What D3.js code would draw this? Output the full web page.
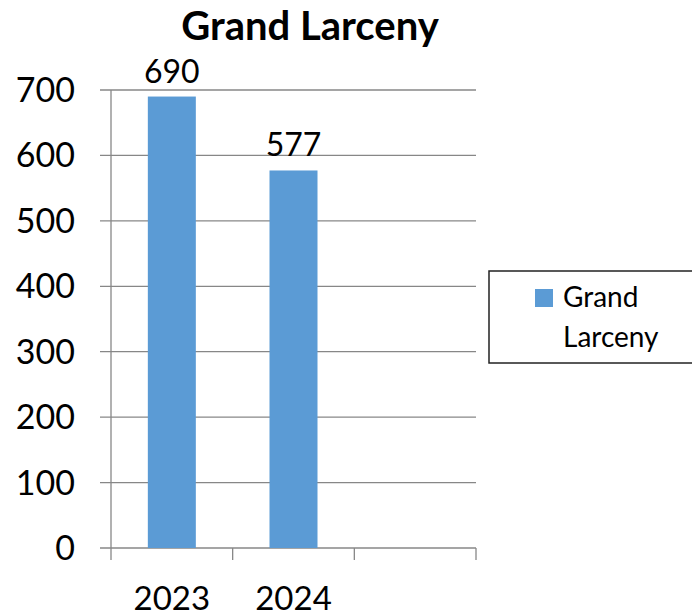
<!DOCTYPE html>
<html>
<head>
<meta charset="utf-8">
<script src="https://cdn.jsdelivr.net/npm/d3@7"></script>
<style>
  body { margin: 0; background: #fff; }
  text { font-family: Lato, "Open Sans", sans-serif; fill: #000; }
</style>
</head>
<body>
<svg width="692" height="613"></svg>
<script>
// chart data
var categories = ["2023", "2024", ""];
var values = [690, 577, null];
var yTicks = [0, 100, 200, 300, 400, 500, 600, 700];
var seriesName = ["Grand", "Larceny"];
var title = "Grand Larceny";

var svg = d3.select("svg");
var pLeft = 111, pRight = 476, pTop = 90, pBottom = 548;

var x = d3.scaleBand().domain(categories).range([pLeft, pRight]).paddingInner(0).paddingOuter(0);
var y = d3.scaleLinear().domain([0, 700]).range([pBottom, pTop]);

// gridlines
svg.selectAll("line.grid")
  .data(yTicks)
  .enter().append("line")
  .attr("x1", pLeft - 11).attr("x2", pRight)
  .attr("y1", function(d) { return y(d); })
  .attr("y2", function(d) { return y(d); })
  .style("stroke", "#878787").style("stroke-width", 1.3);

// y axis line
svg.append("line")
  .attr("x1", pLeft).attr("x2", pLeft).attr("y1", pTop).attr("y2", pBottom)
  .style("stroke", "#878787").style("stroke-width", 1.3);

// x axis ticks
var xt = categories.map(function(c) { return x(c); }).concat([pRight]);
svg.selectAll("line.xt")
  .data(xt)
  .enter().append("line")
  .attr("x1", function(d) { return d; }).attr("x2", function(d) { return d; })
  .attr("y1", pBottom).attr("y2", pBottom + 12)
  .style("stroke", "#878787").style("stroke-width", 1.3);

// y labels
svg.selectAll("text.yl")
  .data(yTicks)
  .enter().append("text")
  .attr("x", 75)
  .attr("y", function(d) { return y(d) + 12; })
  .attr("text-anchor", "end")
  .style("font-size", "34px")
  .text(function(d) { return d; });

// bars
var bw = 48;
var barData = categories.map(function(c, i) { return {c: c, v: values[i]}; })
  .filter(function(d) { return d.v != null; });

svg.selectAll("rect.bar")
  .data(barData)
  .enter().append("rect")
  .attr("x", function(d) { return x(d.c) + x.bandwidth() / 2 - bw / 2; })
  .attr("width", bw)
  .attr("y", function(d) { return y(d.v); })
  .attr("height", function(d) { return pBottom - y(d.v); })
  .style("fill", "#5B9BD5");

// value labels
svg.selectAll("text.vl")
  .data(barData)
  .enter().append("text")
  .attr("x", function(d) { return x(d.c) + x.bandwidth() / 2; })
  .attr("y", function(d) { return y(d.v) - 14; })
  .attr("text-anchor", "middle")
  .style("font-size", "32px")
  .text(function(d) { return d.v; });

// x labels
svg.selectAll("text.xl")
  .data(categories)
  .enter().append("text")
  .attr("x", function(d) { return x(d) + x.bandwidth() / 2; })
  .attr("y", 610)
  .attr("text-anchor", "middle")
  .style("font-size", "33px")
  .text(function(d) { return d; });

// title
svg.append("text")
  .attr("x", 310).attr("y", 40)
  .attr("text-anchor", "middle")
  .style("font-size", "40px").style("font-weight", "bold")
  .text(title);

// legend
svg.append("rect")
  .attr("x", 489).attr("y", 271).attr("width", 210).attr("height", 92)
  .style("fill", "none").style("stroke", "#222").style("stroke-width", 1.5);
svg.append("rect")
  .attr("x", 535).attr("y", 289).attr("width", 18).attr("height", 18)
  .style("fill", "#5B9BD5");
svg.selectAll("text.lg")
  .data(seriesName)
  .enter().append("text")
  .attr("x", 563)
  .attr("y", function(d, i) { return 307 + i * 40; })
  .style("font-size", "28px")
  .text(function(d) { return d; });
</script>
</body>
</html>
